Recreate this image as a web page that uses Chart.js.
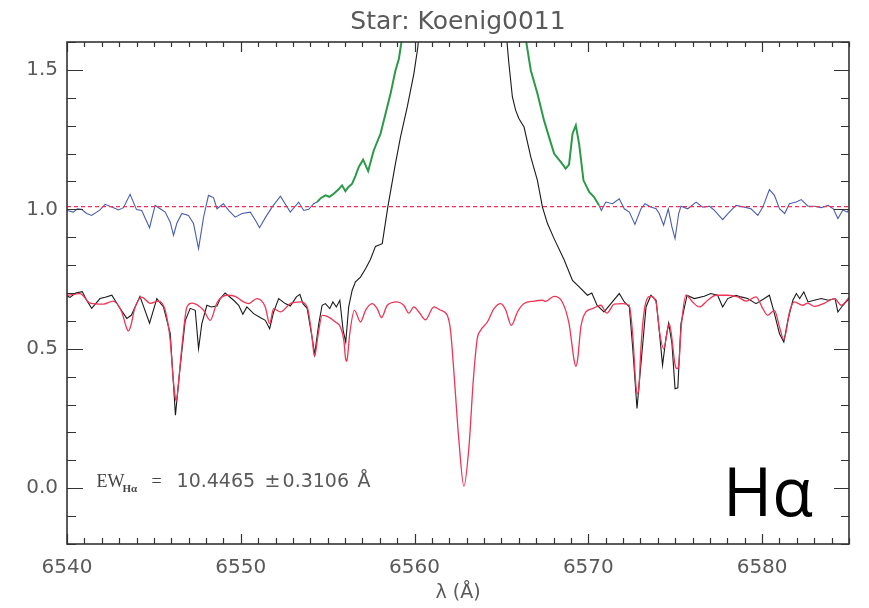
<!DOCTYPE html>
<html>
<head>
<meta charset="utf-8">
<script src="https://cdn.jsdelivr.net/npm/chart.js"></script>
<style>
  html, body { margin: 0; padding: 0; background: #fff; }
  #wrap { width: 869px; height: 608px; }
</style>
</head>
<body>
<div id="wrap"><canvas id="spec" width="869" height="608"></canvas></div>
<script>
// observed spectrum (black)
const blackWave = [6540.0, 6540.17, 6540.5, 6540.88, 6541.13, 6541.42, 6541.9, 6542.2, 6542.58, 6543.0, 6543.44, 6543.7, 6544.2, 6544.75, 6545.17, 6545.55, 6545.94, 6546.1, 6546.24, 6546.51, 6546.8, 6547.09, 6547.38, 6547.57, 6547.76, 6548.05, 6548.3, 6548.63, 6548.82, 6549.1, 6549.59, 6549.88, 6550.12, 6550.35, 6550.74, 6551.12, 6551.41, 6551.66, 6551.89, 6552.18, 6552.56, 6552.85, 6553.2, 6553.4, 6553.58, 6553.82, 6554.1, 6554.25, 6554.49, 6554.68, 6554.87, 6555.12, 6555.3, 6555.5, 6555.7, 6555.89, 6556.04, 6556.21, 6556.41, 6556.6, 6556.89, 6557.18, 6557.46, 6557.75, 6558.14, 6558.46, 6558.9, 6559.19, 6559.58, 6559.96, 6560.19, 6560.4, 6562.8, 6565.25, 6565.43, 6565.63, 6565.82, 6566.01, 6566.3, 6566.69, 6567.07, 6567.36, 6567.65, 6568.03, 6568.6, 6569.09, 6569.5, 6569.95, 6570.2, 6570.5, 6570.9, 6571.3, 6571.78, 6572.07, 6572.36, 6572.55, 6572.8, 6573.03, 6573.32, 6573.6, 6573.9, 6574.08, 6574.27, 6574.47, 6574.62, 6574.81, 6574.99, 6575.15, 6575.33, 6575.68, 6576.1, 6576.67, 6577.05, 6577.44, 6577.73, 6578.02, 6578.5, 6578.78, 6579.17, 6579.65, 6580.13, 6580.42, 6580.71, 6581.0, 6581.25, 6581.48, 6581.77, 6581.97, 6582.16, 6582.4, 6582.64, 6583.0, 6583.4, 6583.8, 6584.2, 6584.36, 6584.65, 6585.0];
const blackFlux = [0.69, 0.684, 0.70, 0.705, 0.674, 0.645, 0.68, 0.685, 0.692, 0.65, 0.609, 0.62, 0.688, 0.592, 0.68, 0.65, 0.555, 0.40, 0.262, 0.435, 0.60, 0.645, 0.638, 0.50, 0.59, 0.656, 0.65, 0.653, 0.68, 0.70, 0.674, 0.656, 0.624, 0.65, 0.626, 0.612, 0.602, 0.572, 0.632, 0.68, 0.662, 0.653, 0.686, 0.695, 0.662, 0.645, 0.542, 0.48, 0.59, 0.656, 0.662, 0.644, 0.668, 0.65, 0.674, 0.566, 0.524, 0.65, 0.71, 0.74, 0.757, 0.787, 0.82, 0.867, 0.877, 1.008, 1.164, 1.259, 1.367, 1.486, 1.582, 1.75, 2.6, 1.65, 1.522, 1.403, 1.355, 1.325, 1.295, 1.187, 1.104, 1.008, 0.949, 0.895, 0.82, 0.745, 0.72, 0.692, 0.70, 0.656, 0.632, 0.662, 0.698, 0.668, 0.65, 0.506, 0.286, 0.447, 0.65, 0.692, 0.674, 0.566, 0.441, 0.54, 0.592, 0.52, 0.357, 0.36, 0.59, 0.692, 0.68, 0.688, 0.698, 0.692, 0.65, 0.68, 0.692, 0.686, 0.68, 0.662, 0.68, 0.692, 0.626, 0.554, 0.524, 0.602, 0.674, 0.698, 0.68, 0.704, 0.668, 0.674, 0.68, 0.674, 0.68, 0.632, 0.656, 0.68];

// synthetic model (red)
const modelWave = [6540.0, 6540.75, 6541.33, 6542.1, 6542.65, 6543.15, 6543.4, 6543.53, 6543.66, 6543.9, 6544.3, 6544.8, 6545.26, 6545.65, 6545.94, 6546.1, 6546.22, 6546.28, 6546.34, 6546.45, 6546.61, 6546.9, 6547.19, 6547.86, 6548.24, 6548.63, 6549.2, 6549.68, 6550.16, 6550.45, 6550.93, 6551.41, 6551.66, 6551.89, 6552.28, 6552.85, 6553.43, 6553.82, 6554.1, 6554.2, 6554.25, 6554.3, 6554.46, 6554.68, 6554.97, 6555.45, 6555.73, 6555.93, 6556.03, 6556.08, 6556.13, 6556.27, 6556.54, 6556.89, 6557.18, 6557.56, 6557.85, 6558.1, 6558.43, 6559.0, 6559.38, 6559.67, 6559.96, 6560.25, 6560.63, 6561.11, 6561.5, 6561.88, 6562.07, 6562.27, 6562.55, 6562.84, 6563.13, 6563.38, 6563.61, 6563.8, 6564.19, 6564.57, 6564.96, 6565.24, 6565.57, 6565.92, 6566.3, 6566.88, 6567.36, 6567.55, 6568.03, 6568.5, 6568.89, 6569.18, 6569.28, 6569.38, 6569.57, 6569.86, 6570.24, 6570.72, 6571.07, 6571.49, 6571.97, 6572.35, 6572.55, 6572.75, 6572.83, 6572.91, 6573.03, 6573.22, 6573.57, 6573.89, 6574.1, 6574.33, 6574.66, 6575.0, 6575.1, 6575.2, 6575.33, 6575.62, 6576.0, 6576.39, 6576.87, 6577.35, 6578.02, 6578.6, 6579.08, 6579.65, 6580.04, 6580.32, 6580.71, 6581.0, 6581.25, 6581.6, 6581.86, 6582.34, 6582.63, 6583.0, 6583.6, 6584.17, 6584.55, 6585.0];
const modelFlux = [0.692, 0.698, 0.664, 0.66, 0.671, 0.632, 0.58, 0.564, 0.58, 0.645, 0.685, 0.663, 0.671, 0.638, 0.53, 0.40, 0.33, 0.313, 0.33, 0.40, 0.506, 0.65, 0.664, 0.638, 0.602, 0.665, 0.692, 0.688, 0.668, 0.662, 0.68, 0.65, 0.59, 0.644, 0.632, 0.662, 0.668, 0.65, 0.542, 0.485, 0.473, 0.485, 0.554, 0.62, 0.616, 0.596, 0.578, 0.53, 0.465, 0.455, 0.465, 0.554, 0.638, 0.596, 0.638, 0.662, 0.644, 0.612, 0.656, 0.668, 0.656, 0.628, 0.65, 0.632, 0.604, 0.65, 0.638, 0.62, 0.566, 0.411, 0.172, 0.007, 0.148, 0.387, 0.537, 0.566, 0.596, 0.644, 0.662, 0.64, 0.584, 0.632, 0.662, 0.671, 0.674, 0.67, 0.688, 0.668, 0.59, 0.46, 0.437, 0.46, 0.578, 0.632, 0.644, 0.656, 0.628, 0.66, 0.662, 0.656, 0.554, 0.36, 0.339, 0.36, 0.506, 0.638, 0.688, 0.668, 0.56, 0.50, 0.59, 0.44, 0.429, 0.44, 0.566, 0.692, 0.668, 0.65, 0.674, 0.692, 0.692, 0.686, 0.671, 0.686, 0.644, 0.62, 0.638, 0.578, 0.533, 0.638, 0.668, 0.656, 0.664, 0.652, 0.664, 0.68, 0.656, 0.684];

// ratio observed / model, outside the emission (blue)
const ratioLeftWave = [6540.0, 6540.36, 6540.6, 6540.84, 6541.13, 6541.42, 6541.9, 6542.19, 6542.68, 6542.96, 6543.25, 6543.63, 6544.0, 6544.3, 6544.75, 6545.07, 6545.36, 6545.65, 6545.94, 6546.13, 6546.32, 6546.61, 6546.99, 6547.28, 6547.57, 6547.86, 6548.14, 6548.43, 6548.63, 6549.0, 6549.3, 6549.68, 6550.07, 6550.55, 6550.84, 6551.08, 6551.43, 6551.8, 6552.28, 6552.85, 6553.33, 6553.62, 6553.91, 6554.2, 6554.39];
const ratioLeftFlux = [0.996, 0.99, 1.002, 1.0, 0.985, 0.978, 0.998, 1.018, 1.006, 0.998, 1.006, 1.054, 0.999, 0.996, 0.934, 1.014, 1.002, 0.99, 0.954, 0.907, 0.95, 0.985, 0.978, 0.949, 0.859, 0.972, 1.05, 1.042, 1.002, 1.02, 0.996, 0.972, 0.985, 0.99, 0.961, 0.934, 0.972, 1.008, 1.047, 0.99, 1.026, 0.996, 1.0, 1.02, 1.026];
const ratioRightWave = [6570.62, 6570.75, 6571.0, 6571.39, 6571.78, 6572.07, 6572.36, 6572.68, 6573.03, 6573.26, 6573.6, 6573.9, 6574.08, 6574.33, 6574.6, 6574.81, 6574.99, 6575.2, 6575.33, 6575.72, 6576.2, 6576.58, 6576.97, 6577.26, 6577.73, 6578.11, 6578.5, 6578.98, 6579.36, 6579.75, 6580.04, 6580.42, 6580.71, 6581.0, 6581.3, 6581.57, 6581.96, 6582.25, 6582.64, 6583.02, 6583.4, 6583.8, 6584.1, 6584.36, 6584.65, 6584.9, 6585.0];
const ratioRightFlux = [1.014, 0.996, 1.026, 1.02, 1.038, 1.002, 0.99, 0.946, 1.002, 1.02, 1.008, 1.002, 0.985, 0.943, 1.002, 0.937, 0.895, 0.985, 1.011, 1.002, 1.026, 1.008, 1.011, 0.996, 0.963, 0.99, 1.014, 1.008, 1.002, 0.978, 1.008, 1.071, 1.05, 1.002, 0.985, 1.02, 1.026, 1.035, 1.011, 1.011, 1.006, 1.014, 1.002, 0.967, 0.998, 0.99, 1.0];

// ratio inside the emission window (green)
const emisWave = [6554.39, 6554.6, 6554.87, 6555.1, 6555.35, 6555.6, 6555.83, 6556.02, 6556.2, 6556.41, 6556.6, 6556.79, 6557.04, 6557.33, 6557.65, 6558.04, 6558.33, 6558.62, 6558.9, 6559.1, 6559.23, 6559.4, 6563.0, 6566.3, 6566.69, 6567.07, 6567.45, 6567.74, 6568.03, 6568.41, 6568.7, 6568.89, 6569.09, 6569.28, 6569.47, 6569.72, 6570.05, 6570.33, 6570.62];
const emisFlux = [1.026, 1.04, 1.05, 1.045, 1.056, 1.07, 1.086, 1.065, 1.08, 1.092, 1.12, 1.152, 1.178, 1.137, 1.211, 1.271, 1.343, 1.415, 1.498, 1.54, 1.594, 1.7, 3.0, 1.65, 1.498, 1.415, 1.319, 1.259, 1.2, 1.17, 1.146, 1.16, 1.271, 1.301, 1.235, 1.104, 1.062, 1.044, 1.014];

// continuum reference level (dashed)
const levelWave = [6540, 6585];
const levelFlux = [1.01, 1.01];

const xTicks = [6540, 6550, 6560, 6570, 6580];
const yTicks = [0.0, 0.5, 1.0, 1.5];
const starName = 'Star: Koenig0011';

const pts = (w, f) => w.map((v, i) => ({ x: v, y: f[i] }));

const FRAME = '#333';
const LABEL = '#5a5a5a';
const SANS = '"DejaVu Sans"';

// IDL-like box with inward ticks on all four sides
const boxTicks = {
  id: 'boxTicks',
  afterDatasetsDraw(chart) {
    const { ctx, chartArea: a, scales: { x, y } } = chart;
    ctx.save();
    ctx.strokeStyle = FRAME;
    ctx.lineWidth = 1.2;
    ctx.beginPath();
    for (let v = 6540; v <= 6585; v++) {
      const px = Math.round(x.getPixelForValue(v)) + 0.5;
      const major = xTicks.includes(v);
      const lb = major ? 10 : 6, lt = major ? 10 : 5;
      ctx.moveTo(px, a.bottom); ctx.lineTo(px, a.bottom - lb);
      ctx.moveTo(px, a.top); ctx.lineTo(px, a.top + lt);
    }
    for (let i = -2; i <= 16; i++) {
      const py = Math.round(y.getPixelForValue(i / 10)) + 0.5;
      const major = i % 5 === 0;
      const ll = major ? 16 : 9, lr = major ? 15 : 8;
      ctx.moveTo(a.left, py); ctx.lineTo(a.left + ll, py);
      ctx.moveTo(a.right, py); ctx.lineTo(a.right - lr, py);
    }
    ctx.stroke();
    ctx.lineWidth = 1.6;
    ctx.strokeRect(a.left, a.top, a.right - a.left, a.bottom - a.top);
    ctx.restore();
  }
};

// title over the plot box, equivalent width label and line name
const notes = {
  id: 'notes',
  afterDraw(chart) {
    const { ctx, chartArea: a, scales: { x, y } } = chart;
    ctx.save();
    ctx.fillStyle = LABEL;
    ctx.textAlign = 'center';
    ctx.textBaseline = 'alphabetic';
    ctx.font = '25px ' + SANS;
    ctx.fillText(starName, (a.left + a.right) / 2, 29);

    ctx.textAlign = 'left';
    const x0 = x.getPixelForValue(6541.7);
    const base = y.getPixelForValue(0.0) - 1;
    ctx.fillStyle = '#444';
    ctx.font = '18px "Liberation Serif"';
    ctx.fillText('EW', x0, base);
    ctx.font = 'bold 11px "Liberation Serif"';
    ctx.fillText('H\u03b1', x0 + 26, base + 5);
    ctx.font = '18px "Liberation Serif"';
    ctx.fillText('=', x0 + 55, base);
    ctx.fillStyle = LABEL;
    ctx.font = '19px ' + SANS;
    ctx.fillText('10.4465', x0 + 80, base);
    ctx.fillText('\u00b1', x0 + 168, base);
    ctx.fillText('0.3106', x0 + 186, base);
    ctx.fillText('\u00c5', x0 + 261, base);

    ctx.fillStyle = '#000';
    ctx.font = '67px "Open Sans"';
    ctx.fillText('H\u03b1', x.getPixelForValue(6577.75), y.getPixelForValue(-0.1), 90);
    ctx.restore();
  }
};

const line = (data, color, width, extra) => Object.assign({
  data, borderColor: color, borderWidth: width, pointRadius: 0,
  fill: false, showLine: true, tension: 0
}, extra || {});

new Chart(document.getElementById('spec'), {
  type: 'scatter',
  data: {
    // first dataset is painted last (on top)
    datasets: [
      line(pts(levelWave, levelFlux), '#f0305a', 1.2, { borderDash: [4, 3] }),
      line(pts(emisWave, emisFlux), '#2a9a48', 2),
      line(pts(ratioLeftWave, ratioLeftFlux), '#4a5db0', 1.1),
      line(pts(ratioRightWave, ratioRightFlux), '#4a5db0', 1.1),
      line(pts(modelWave, modelFlux), '#ee3555', 1.3, { cubicInterpolationMode: 'monotone' }),
      line(pts(blackWave, blackFlux), '#1a1a1a', 1.1)
    ]
  },
  options: {
    responsive: false,
    animation: false,
    devicePixelRatio: 1,
    layout: { padding: { right: 20, left: 0, bottom: 0, top: 42 } },
    plugins: {
      legend: { display: false },
      tooltip: { enabled: false },
      title: { display: false }
    },
    scales: {
      x: {
        type: 'linear',
        min: 6540, max: 6585,
        grid: { display: false, drawTicks: false },
        border: { display: false },
        afterFit: s => { s.height = 64; },
        afterBuildTicks: s => { s.ticks = xTicks.map(v => ({ value: v })); },
        ticks: {
          color: LABEL, padding: 12,
          font: { family: SANS, size: 20 },
          callback: v => String(v),
          maxRotation: 0
        },
        title: {
          display: true, text: '\u03bb (\u00c5)', color: LABEL,
          font: { family: SANS, size: 19 },
          padding: { top: 0, bottom: 4 }
        }
      },
      y: {
        type: 'linear',
        min: -0.2, max: 1.6,
        grid: { display: false, drawTicks: false },
        border: { display: false },
        afterFit: s => { s.width = 67; },
        afterBuildTicks: s => { s.ticks = yTicks.map(v => ({ value: v })); },
        ticks: {
          color: LABEL, padding: 9,
          font: { family: SANS, size: 20 },
          callback: v => Number(v).toFixed(1)
        }
      }
    }
  },
  plugins: [boxTicks, notes]
});
</script>
</body>
</html>
